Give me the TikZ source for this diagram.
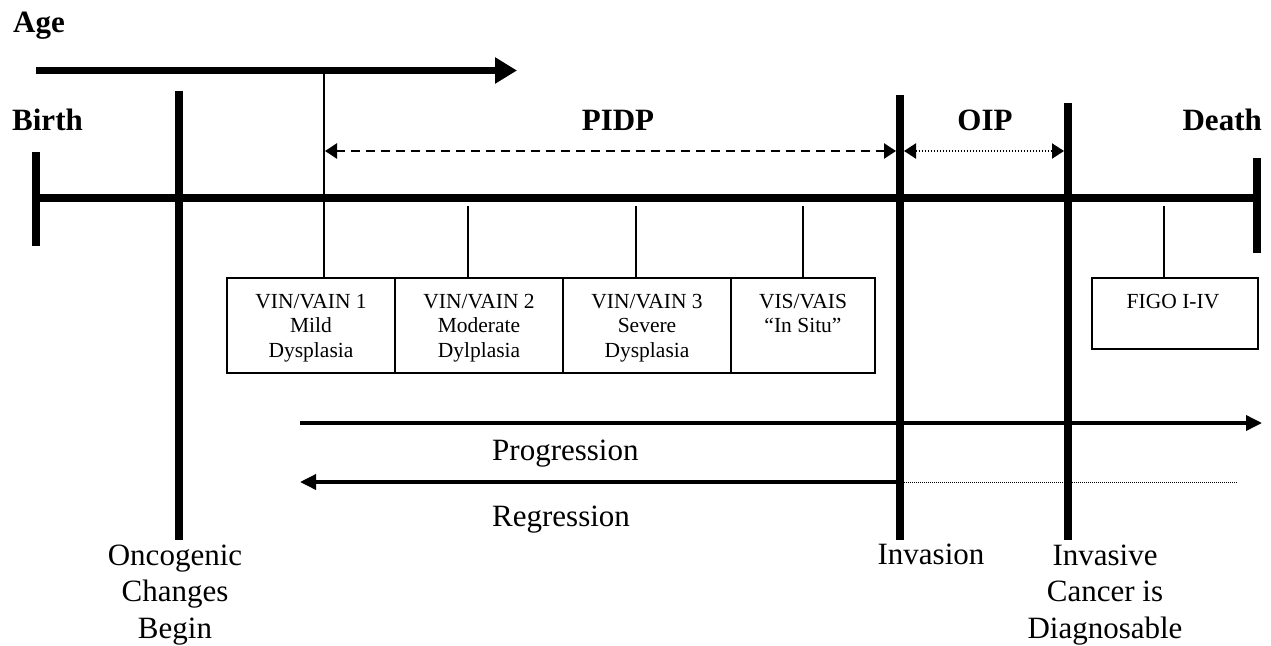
\documentclass[tikz,border=0pt]{standalone}
\usepackage{fontspec}
\setmainfont{Liberation Serif}
\usetikzlibrary{arrows.meta}
\tikzset{
  heavy/.style={line width=7.5pt},
  medium/.style={line width=3.5pt},
  thinline/.style={line width=1.8pt},
  boxframe/.style={draw, line width=1.4pt, inner sep=0pt},
  bigtext/.style={font=\fontsize{31}{36.5}\selectfont, inner sep=0pt, align=center},
  boldtext/.style={font=\fontsize{31}{36}\selectfont\bfseries, inner sep=0pt},
  smalltext/.style={font=\fontsize{21.5}{24.5}\selectfont, inner sep=0pt, align=center},
  bigtip/.tip={Triangle[length=22pt,width=25pt]},
  midtip/.tip={Triangle[length=16pt,width=15pt]},
  smalltip/.tip={Triangle[length=12pt,width=15pt]},
}
\begin{document}
\begin{tikzpicture}[x=1pt,y=-1pt]
\useasboundingbox[fill=white] (0,0) rectangle (1271,645);

% headings
\node[boldtext, anchor=base west] (age) at (13,32) {Age};
\node[boldtext, anchor=base west] (birth) at (12,130) {Birth};
\node[boldtext, anchor=base] (pidp) at (618,130) {PIDP};
\node[boldtext, anchor=base] (oip) at (985,130) {OIP};
\node[boldtext, anchor=base east] (death) at (1262,130) {Death};

% age arrow
\coordinate (ageS) at (36,70.5);
\coordinate (ageE) at (517,70.5);
\coordinate (ageM) at (324,70.5);
\draw[line width=7pt, -{bigtip}] (ageS) -- (ageE);

% main time line with its end ticks
\coordinate (tlL) at (36,198);
\coordinate (tlR) at (1257,198);
\coordinate (birthT) at (36,152);
\coordinate (birthB) at (36,246);
\coordinate (deathT) at (1257,158);
\coordinate (deathB) at (1257,253);
\draw[heavy] (tlL) -- (tlR);
\draw[heavy] (birthT) -- (birthB);
\draw[heavy] (deathT) -- (deathB);

% event markers
\coordinate (oncT) at (179,91);
\coordinate (oncB) at (179,540);
\coordinate (invT) at (900,95);
\coordinate (invB) at (900,540);
\coordinate (diaT) at (1068,103);
\coordinate (diaB) at (1068,540);
\draw[heavy] (oncT) -- (oncB);
\draw[heavy] (invT) -- (invB);
\draw[heavy] (diaT) -- (diaB);

% stage boxes
\node[boxframe, minimum width=168pt, minimum height=95pt] (b1) at (311,325.5) {};
\node[boxframe, minimum width=168pt, minimum height=95pt] (b2) at (479,325.5) {};
\node[boxframe, minimum width=168pt, minimum height=95pt] (b3) at (647,325.5) {};
\node[boxframe, minimum width=144pt, minimum height=95pt] (b4) at (803,325.5) {};
\node[boxframe, minimum width=166pt, minimum height=71pt] (figo) at (1175,313.5) {};

% box texts (anchored on the baseline of the last line)
\node[smalltext, anchor=base] (t1) at (311,357) {VIN/VAIN 1\\Mild\\Dysplasia};
\node[smalltext, anchor=base] (t2) at (479,357) {VIN/VAIN 2\\Moderate\\Dylplasia};
\node[smalltext, anchor=base] (t3) at (647,357) {VIN/VAIN 3\\Severe\\Dysplasia};
\node[smalltext, anchor=base] (t4) at (803,332.5) {VIS/VAIS\\“In Situ”};
\node[smalltext, anchor=base] (t5) at (1173,308) {FIGO I-IV};

% stems from the time line to the boxes
\coordinate (s2) at (468,206);
\coordinate (s3) at (636,206);
\coordinate (s4) at (803,206);
\coordinate (s5) at (1164,206);
\draw[thinline] (ageM) -- (ageM |- b1.north);
\draw[thinline] (s2) -- (s2 |- b2.north);
\draw[thinline] (s3) -- (s3 |- b3.north);
\draw[thinline] (s4) -- (s4 |- b4.north);
\draw[thinline] (s5) -- (s5 |- figo.north);

% interval arrows
\coordinate (pidpL) at (325,151);
\coordinate (pidpR) at (896,151);
\coordinate (oipL) at (904,151);
\coordinate (oipR) at (1064,151);
\draw[line width=2.5pt, dash pattern=on 9pt off 6pt, {smalltip}-{smalltip}] (pidpL) -- (pidpR);
\draw[line width=2pt, dash pattern=on 1.5pt off 1.5pt, {smalltip}-{smalltip}] (oipL) -- (oipR);

% progression / regression
\coordinate (progL) at (300,423);
\coordinate (progR) at (1262,423);
\coordinate (regR) at (900,482);
\coordinate (regL) at (300,482);
\coordinate (regEnd) at (1238,482);
\draw[medium, -{midtip}] (progL) -- (progR);
\draw[medium, -{midtip}] (regR) -- (regL);
\draw[line width=1pt, dash pattern=on 1pt off 1pt] (regR) -- (regEnd);

\node[bigtext, anchor=base west] (prog) at (492,460) {Progression};
\node[bigtext, anchor=base west] (regr) at (492,526) {Regression};

% event labels (anchored on the baseline of the last line)
\node[bigtext, anchor=base] (onc) at (175,638) {Oncogenic\\Changes\\Begin};
\node[bigtext, anchor=base] (inv) at (931,564) {Invasion};
\node[bigtext, anchor=base] (dia) at (1105,638) {Invasive\\Cancer is\\Diagnosable};
\end{tikzpicture}
\end{document}
